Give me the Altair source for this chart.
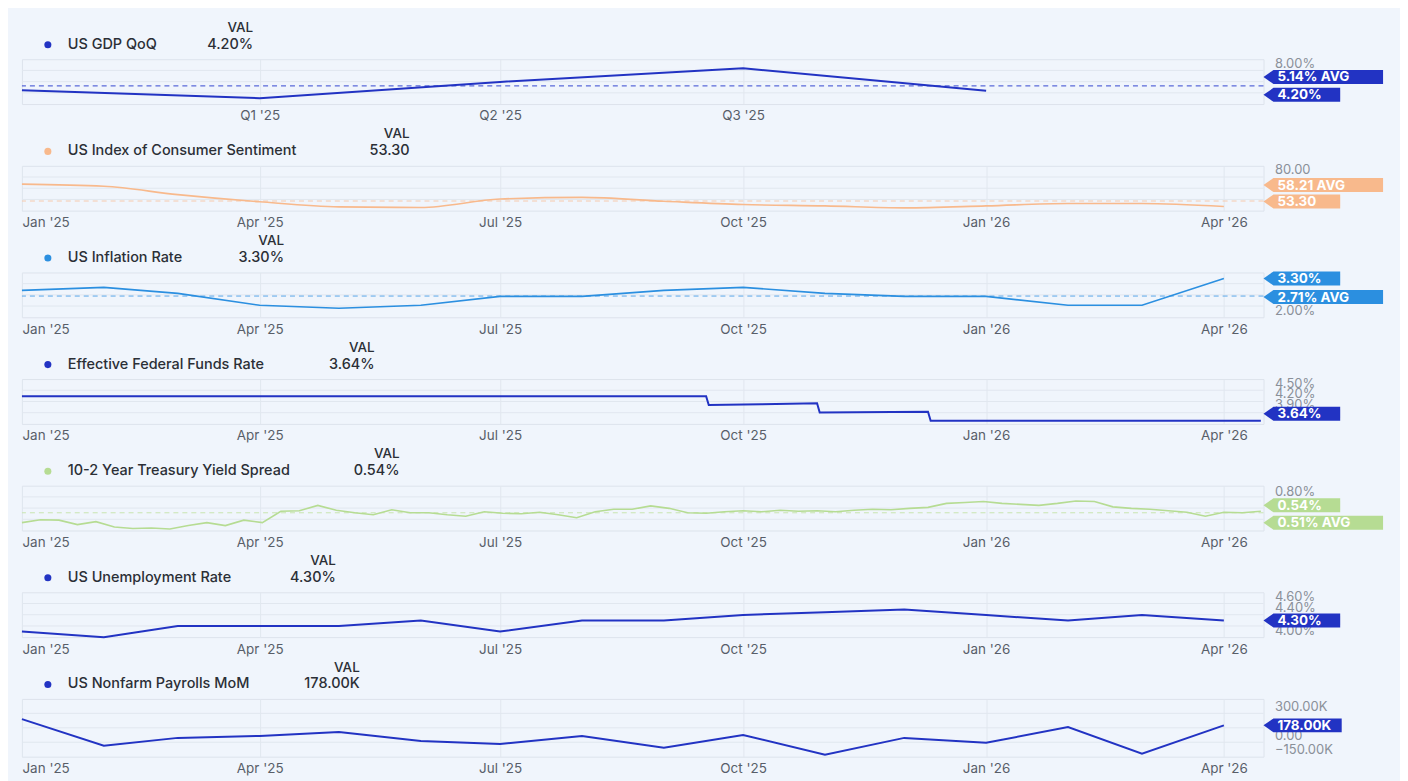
import altair as alt
import pandas as pd

# ---------------- data ----------------
month_dates = ["2025-01-01", "2025-02-01", "2025-03-01", "2025-04-01", "2025-05-01", "2025-06-01",
               "2025-07-01", "2025-08-01", "2025-09-01", "2025-10-01", "2025-11-01", "2025-12-01",
               "2026-01-01", "2026-02-01", "2026-03-01", "2026-04-01"]

gdp_dates = ["2025-01-01", "2025-04-01", "2025-07-01", "2025-10-01", "2026-01-01"]
gdp_values = [4.3, 2.8, 5.9, 8.5, 4.2]

sentiment_values = [73.5, 71.5, 64.0, 57.5, 52.9, 52.4, 60.0, 61.5, 58.0, 55.0, 53.8, 52.0,
                    53.8, 56.0, 56.0, 53.3]

inflation_values = [2.9, 3.0, 2.8, 2.4, 2.3, 2.4, 2.7, 2.7, 2.9, 3.0, 2.8, 2.7, 2.7, 2.4, 2.4, 3.3]

fed_dates = ["2025-01-01", "2025-09-17", "2025-09-18", "2025-10-08", "2025-10-29", "2025-10-30",
             "2025-12-10", "2025-12-11", "2026-04-15"]
fed_values = [4.33, 4.33, 4.08, 4.10, 4.13, 3.87, 3.89, 3.64, 3.64]

spread_start = "2025-01-01"   # weekly observations
spread_values = [0.31, 0.37, 0.36, 0.27, 0.33, 0.22, 0.19, 0.20, 0.18, 0.25, 0.31, 0.25, 0.36, 0.31,
                 0.54, 0.55, 0.66, 0.56, 0.51, 0.47, 0.57, 0.51, 0.51, 0.47, 0.44, 0.53, 0.50, 0.49,
                 0.52, 0.47, 0.41, 0.53, 0.58, 0.58, 0.65, 0.60, 0.51, 0.50,
                 0.53, 0.55, 0.53, 0.56, 0.54, 0.55, 0.53, 0.56, 0.58, 0.57, 0.60, 0.62, 0.70, 0.72,
                 0.74, 0.70, 0.68, 0.66, 0.70, 0.75, 0.74, 0.63, 0.60, 0.58, 0.55, 0.52, 0.44, 0.52,
                 0.51, 0.54]

unemployment_values = [4.1, 4.0, 4.2, 4.2, 4.2, 4.3, 4.1, 4.3, 4.3, 4.4, 4.45, 4.5, 4.4, 4.3, 4.4, 4.3]

payrolls_values = [243, -36, 47, 67, 108, 15, -16, 67, -57, 77, -129, 47, -5, 160, -119, 178]  # thousands

series_names = ["US GDP QoQ", "US Index of Consumer Sentiment", "US Inflation Rate",
                "Effective Federal Funds Rate", "10-2 Year Treasury Yield Spread",
                "US Unemployment Rate", "US Nonfarm Payrolls MoM"]
latest_labels = ["4.20%", "53.30", "3.30%", "3.64%", "0.54%", "4.30%", "178.00K"]
latest_values = [4.20, 53.30, 3.30, 3.64, 0.54, 4.30, 178.0]
avg_labels = ["5.14% AVG", "58.21 AVG", "2.71% AVG", None, "0.51% AVG", None, None]
avg_values = [5.14, 58.21, 2.71, None, 0.51, None, None]

month_ticks = ["2025-01-01", "2025-04-01", "2025-07-01", "2025-10-01", "2026-01-01", "2026-04-01"]
quarter_ticks = ["2025-04-01", "2025-07-01", "2025-10-01"]
quarter_labels = ["Q1 '25", "Q2 '25", "Q3 '25"]

y_domains = [[1.7, 10.2], [49.5, 90.0], [2.0, 3.5], [3.55, 4.81], [0.15, 1.06], [4.0, 4.81], [-150, 455]]
y_ticks = [[8.0], [80.0], [2.0], [3.9, 4.2, 4.5], [0.8], [4.0, 4.2, 4.4, 4.6], [-150, 0, 300]]

# ---------------- styling ----------------
BG = "#f0f5fc"
GRID = "#e1e7ef"
TEXT = "#2b2f36"
FONT = "Inter"
W = 1246
DARK = "#2233c3"
colors = [DARK, "#f8b98c", "#2b8fe0", DARK, "#b6dc93", DARK, DARK]
dash_colors = ["#3345d0", "#f6cbad", "#5aa8e8", None, "#c9e5b0", None, None]
line_widths = [2, 1.6, 1.6, 2, 1.6, 2, 2]
heights = [45, 45, 45, 45, 45, 45, 58]
header_x = [232, 389, 263, 354, 379, 315, 339]
val_offsets = [4, -5, 0, -7, -6, 0, 0]
avg_offsets = [-9, -16, 1, 0, 10, 0, 0]


def dt(s):
    y, m, d = (int(p) for p in s.split("-"))
    return alt.DateTime(year=y, month=m, date=d)


x_domain = [dt("2025-01-01"), dt("2026-04-16")]


def arrow_shape(w, h=14, tip=10):
    s = w / 2.0
    hy = h / 2.0 / s
    bx = -1 + tip / s
    return f"M-1,0L{bx:.4f},{-hy:.4f}L1,{-hy:.4f}L1,{hy:.4f}L{bx:.4f},{hy:.4f}Z"


def x_axis(quarters=False):
    common = dict(grid=True, gridColor=GRID, ticks=False, domain=False, title=None, labelColor="#585e69",
                  labelFontSize=13.5, labelPadding=5, labelFont=FONT)
    if quarters:
        expr = " : ".join(
            f"timeFormat(datum.value, '%Y-%m-%d') == '{d}' ? \"{l}\"" for d, l in zip(quarter_ticks, quarter_labels)
        ) + " : ''"
        return alt.Axis(values=[dt(d) for d in quarter_ticks], labelExpr=expr, **common)
    return alt.Axis(values=[dt(d) for d in month_ticks], format="%b '%y", labelFlush=True, **common)


y_label_exprs = [
    "format(datum.value, '.2f') + '%'",
    "format(datum.value, '.2f')",
    "format(datum.value, '.2f') + '%'",
    "format(datum.value, '.2f') + '%'",
    "format(datum.value, '.2f') + '%'",
    "format(datum.value, '.2f') + '%'",
    "datum.value == 0 ? '0.00' : format(datum.value, '.2f') + 'K'",
]


def make_panel(i, df, quarters=False, interp="linear"):
    color = colors[i]
    lo, hi = y_domains[i]
    h = heights[i]
    yaxis = alt.Axis(orient="right", values=y_ticks[i], labelExpr=y_label_exprs[i], grid=False, ticks=False,
                     domain=False, labelPadding=11, labelBaseline="bottom", labelColor="#8a9099",
                     labelFontSize=13, labelOverlap=False, title=None, labelFont=FONT)
    yscale = alt.Scale(domain=[lo, hi], nice=False, zero=False)

    def Y(field):
        return alt.Y(field, type="quantitative", scale=yscale, axis=yaxis, title=None)

    X = alt.X("date:T", scale=alt.Scale(domain=x_domain), axis=x_axis(quarters), title=None)

    grid_df = pd.DataFrame({"v": [lo + (hi - lo) * k / 4 for k in (1, 2, 3)]})
    layers = [alt.Chart(grid_df).mark_rule(color=GRID, strokeWidth=1).encode(y=Y("v"))]

    if avg_labels[i] is not None:
        avg_df = pd.DataFrame({"v": [avg_values[i]]})
        layers.append(alt.Chart(avg_df).mark_rule(color=dash_colors[i], strokeWidth=1, strokeDash=[5, 4])
                      .encode(y=Y("v")))

    layers.append(alt.Chart(df).mark_line(color=color, strokeWidth=line_widths[i], interpolate=interp)
                  .encode(x=X, y=Y("v")))

    def arrow(value, label, off):
        bw = 120 if "AVG" in label else (12 + 9.5 * len(label) if len(label) > 5 else 77)
        d = pd.DataFrame({"v": [value], "label": [label]})
        box = alt.Chart(d).mark_point(shape=arrow_shape(bw), size=bw * bw, filled=True, color=color,
                                      opacity=1, strokeWidth=0, yOffset=off).encode(
            x=alt.value(W + bw / 2.0), y=Y("v"))
        txt = alt.Chart(d).mark_text(align="left", baseline="middle", color="white", fontWeight="bold",
                                     fontSize=13.5, font=FONT, yOffset=off + 0.5).encode(
            x=alt.value(W + 14), y=Y("v"), text="label:N")
        return [box, txt]

    if avg_labels[i] is not None:
        layers += arrow(avg_values[i], avg_labels[i], avg_offsets[i])
    layers += arrow(latest_values[i], latest_labels[i], val_offsets[i])

    one = pd.DataFrame({"name": [series_names[i]], "val": [latest_labels[i]], "hdr": ["VAL"]})
    layers.append(alt.Chart(one).mark_point(filled=True, size=50, color=color, opacity=1)
                  .encode(x=alt.value(26), y=alt.value(-14.5)))
    layers.append(alt.Chart(one).mark_text(align="left", baseline="middle", color=TEXT, fontSize=14.5,
                                           fontWeight=500, font=FONT)
                  .encode(x=alt.value(46), y=alt.value(-14.5), text="name:N"))
    layers.append(alt.Chart(one).mark_text(align="right", baseline="middle", color=TEXT, fontSize=14.5,
                                           fontWeight=500, font=FONT)
                  .encode(x=alt.value(header_x[i]), y=alt.value(-14.5), text="val:N"))
    layers.append(alt.Chart(one).mark_text(align="right", baseline="middle", color=TEXT, fontSize=13.5,
                                           fontWeight=500, font=FONT)
                  .encode(x=alt.value(header_x[i]), y=alt.value(-31.5), text="hdr:N"))

    return alt.layer(*layers).properties(width=W, height=h)


months = pd.to_datetime(month_dates)
gdp_df = pd.DataFrame({"date": pd.to_datetime(gdp_dates), "v": gdp_values})
sent_df = pd.DataFrame({"date": months, "v": sentiment_values})
infl_df = pd.DataFrame({"date": months, "v": inflation_values})
fed_df = pd.DataFrame({"date": pd.to_datetime(fed_dates), "v": fed_values})
spread_df = pd.DataFrame({"date": pd.date_range(spread_start, periods=len(spread_values), freq="7D"),
                          "v": spread_values})
unemp_df = pd.DataFrame({"date": months, "v": unemployment_values})
nfp_df = pd.DataFrame({"date": months, "v": payrolls_values})

panels = [
    make_panel(0, gdp_df, quarters=True),
    make_panel(1, sent_df, interp="monotone"),
    make_panel(2, infl_df),
    make_panel(3, fed_df),
    make_panel(4, spread_df),
    make_panel(5, unemp_df),
    make_panel(6, nfp_df),
]

chart = alt.vconcat(*panels, spacing=62, bounds="flush").resolve_scale(
    y="independent", x="independent"
).properties(
    background=BG,
    padding={"left": 9, "top": 11, "right": 16, "bottom": 6},
).configure_view(stroke="#dde3ec", strokeWidth=1).configure_text(font=FONT)

chart.save("out.html", embed_options={"renderer": "svg", "actions": False})
